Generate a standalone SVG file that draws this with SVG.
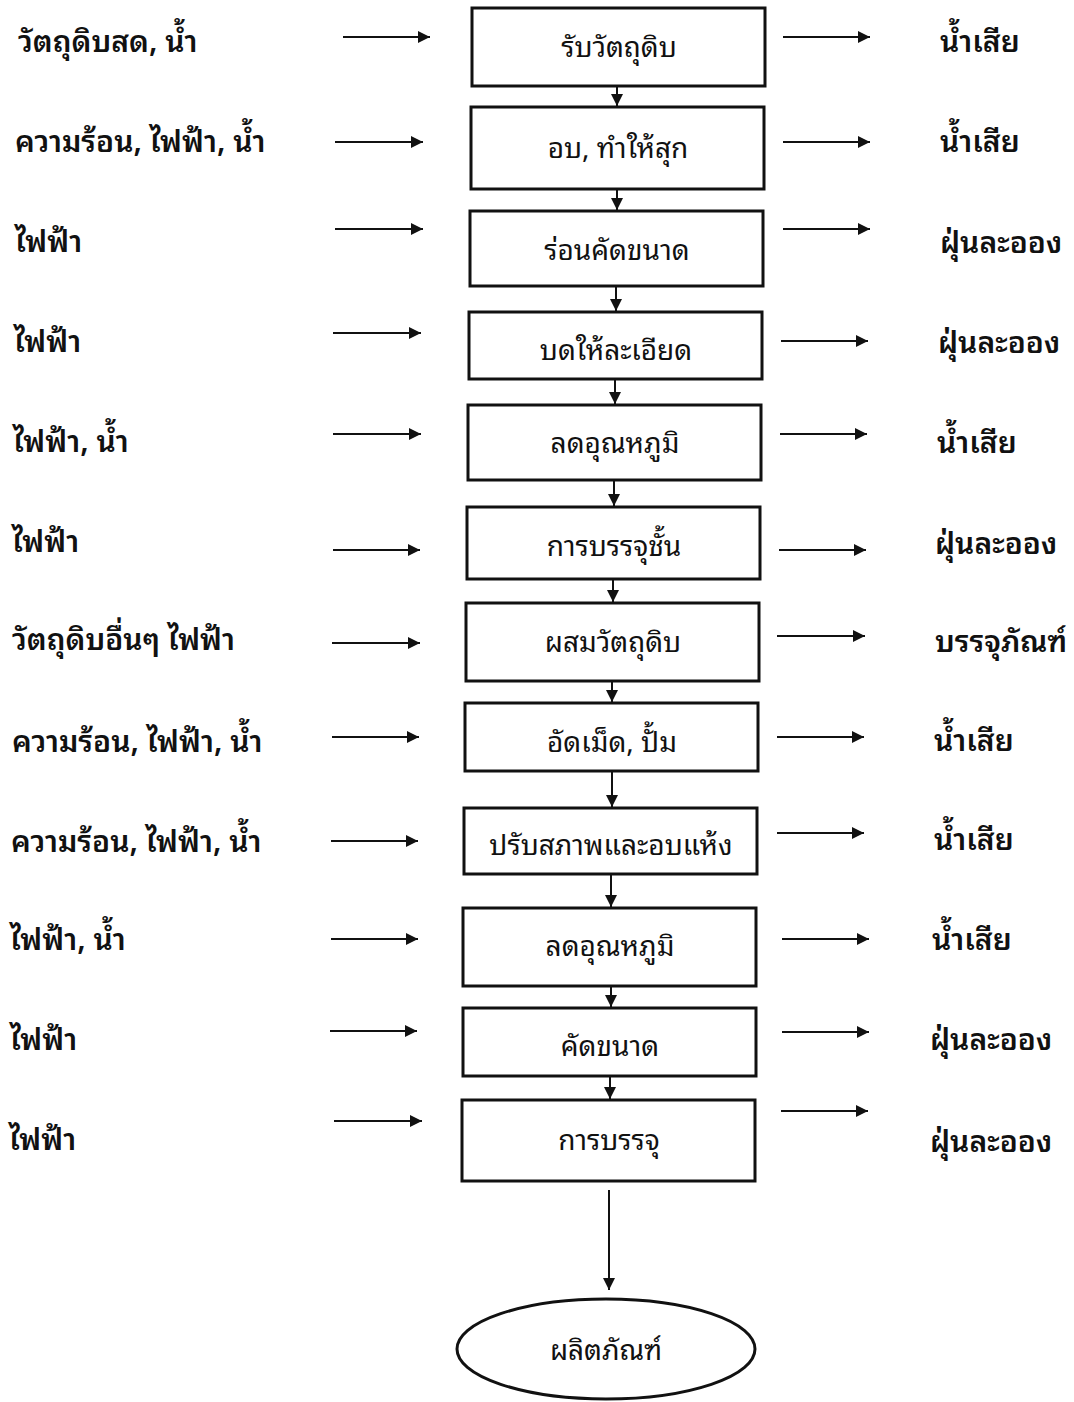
<svg xmlns="http://www.w3.org/2000/svg" width="1074" height="1402" viewBox="0 0 1074 1402">
<defs>
<style>
.bg{fill:#fff}
.box{fill:#fff;stroke:#111;stroke-width:3}
.ln{stroke:#111;stroke-width:2;fill:none}
.side{font-family:"Noto Sans Thai Looped","Loma","Garuda","Tahoma","Noto Sans Thai","Noto Sans",sans-serif;font-size:30px;font-weight:600;fill:#111}
.lbl{font-family:"Noto Sans Thai Looped","Loma","Garuda","Tahoma","Noto Sans Thai","Noto Sans",sans-serif;font-size:28px;fill:#111;text-anchor:middle}
</style>
<marker id="ah" viewBox="0 0 10 10" refX="10" refY="5" markerWidth="6.5" markerHeight="6" markerUnits="strokeWidth" orient="auto">
<path d="M0,0 L10,5 L0,10 z" fill="#111"/>
</marker>
</defs>
<rect class="bg" x="0" y="0" width="1074" height="1402"/>

<g id="nodes">
<g id="n1"><rect class="box" x="472" y="8" width="293" height="78"/><text class="lbl" x="619" y="57">รับวัตถุดิบ</text></g>
<g id="n2"><rect class="box" x="471" y="107" width="293" height="82"/><text class="lbl" x="618" y="158">อบ, ทำให้สุก</text></g>
<g id="n3"><rect class="box" x="470" y="211" width="293" height="75"/><text class="lbl" x="617" y="260">ร่อนคัดขนาด</text></g>
<g id="n4"><rect class="box" x="469" y="312" width="293" height="67"/><text class="lbl" x="616" y="360">บดให้ละเอียด</text></g>
<g id="n5"><rect class="box" x="468" y="405" width="293" height="75"/><text class="lbl" x="615" y="453">ลดอุณหภูมิ</text></g>
<g id="n6"><rect class="box" x="467" y="507" width="293" height="72"/><text class="lbl" x="614" y="556">การบรรจุชั้น</text></g>
<g id="n7"><rect class="box" x="466" y="603" width="293" height="78"/><text class="lbl" x="613" y="652">ผสมวัตถุดิบ</text></g>
<g id="n8"><rect class="box" x="465" y="703" width="293" height="68"/><text class="lbl" x="612" y="752">อัดเม็ด, ปั้ม</text></g>
<g id="n9"><rect class="box" x="464" y="808" width="293" height="66"/><text class="lbl" x="611" y="855">ปรับสภาพและอบแห้ง</text></g>
<g id="n10"><rect class="box" x="463" y="908" width="293" height="78"/><text class="lbl" x="610" y="956">ลดอุณหภูมิ</text></g>
<g id="n11"><rect class="box" x="463" y="1008" width="293" height="68"/><text class="lbl" x="610" y="1056">คัดขนาด</text></g>
<g id="n12"><rect class="box" x="462" y="1100" width="293" height="81"/><text class="lbl" x="609" y="1150">การบรรจุ</text></g>
<g id="n13"><ellipse class="box" cx="606" cy="1349" rx="149" ry="50"/><text class="lbl" x="606" y="1360">ผลิตภัณฑ์</text></g>
</g>

<g id="inputs">
<text class="side" x="18" y="52">วัตถุดิบสด, น้ำ</text>
<text class="side" x="15" y="152">ความร้อน, ไฟฟ้า, น้ำ</text>
<text class="side" x="15" y="252">ไฟฟ้า</text>
<text class="side" x="14" y="352">ไฟฟ้า</text>
<text class="side" x="13" y="452">ไฟฟ้า, น้ำ</text>
<text class="side" x="12" y="552">ไฟฟ้า</text>
<text class="side" x="12" y="650">วัตถุดิบอื่นๆ ไฟฟ้า</text>
<text class="side" x="12" y="752">ความร้อน, ไฟฟ้า, น้ำ</text>
<text class="side" x="11" y="852">ความร้อน, ไฟฟ้า, น้ำ</text>
<text class="side" x="10" y="950">ไฟฟ้า, น้ำ</text>
<text class="side" x="10" y="1050">ไฟฟ้า</text>
<text class="side" x="9" y="1150">ไฟฟ้า</text>
</g>

<g id="outputs">
<text class="side" x="940" y="52">น้ำเสีย</text>
<text class="side" x="940" y="152">น้ำเสีย</text>
<text class="side" x="940" y="253">ฝุ่นละออง</text>
<text class="side" x="938" y="353">ฝุ่นละออง</text>
<text class="side" x="937" y="453">น้ำเสีย</text>
<text class="side" x="935" y="554">ฝุ่นละออง</text>
<text class="side" x="935" y="652">บรรจุภัณฑ์</text>
<text class="side" x="934" y="751">น้ำเสีย</text>
<text class="side" x="934" y="850">น้ำเสีย</text>
<text class="side" x="932" y="950">น้ำเสีย</text>
<text class="side" x="930" y="1050">ฝุ่นละออง</text>
<text class="side" x="930" y="1152">ฝุ่นละออง</text>
</g>

<g id="connectors">
<line class="ln" x1="343" y1="37" x2="430" y2="37" marker-end="url(#ah)"/>
<line class="ln" x1="335" y1="142" x2="423" y2="142" marker-end="url(#ah)"/>
<line class="ln" x1="335" y1="229" x2="423" y2="229" marker-end="url(#ah)"/>
<line class="ln" x1="333" y1="333" x2="421" y2="333" marker-end="url(#ah)"/>
<line class="ln" x1="333" y1="434" x2="421" y2="434" marker-end="url(#ah)"/>
<line class="ln" x1="333" y1="550" x2="420" y2="550" marker-end="url(#ah)"/>
<line class="ln" x1="332" y1="643" x2="420" y2="643" marker-end="url(#ah)"/>
<line class="ln" x1="332" y1="737" x2="419" y2="737" marker-end="url(#ah)"/>
<line class="ln" x1="331" y1="841" x2="418" y2="841" marker-end="url(#ah)"/>
<line class="ln" x1="331" y1="939" x2="418" y2="939" marker-end="url(#ah)"/>
<line class="ln" x1="330" y1="1031" x2="417" y2="1031" marker-end="url(#ah)"/>
<line class="ln" x1="334" y1="1121" x2="422" y2="1121" marker-end="url(#ah)"/>

<line class="ln" x1="783" y1="37" x2="870" y2="37" marker-end="url(#ah)"/>
<line class="ln" x1="783" y1="142" x2="870" y2="142" marker-end="url(#ah)"/>
<line class="ln" x1="783" y1="229" x2="870" y2="229" marker-end="url(#ah)"/>
<line class="ln" x1="781" y1="341" x2="868" y2="341" marker-end="url(#ah)"/>
<line class="ln" x1="780" y1="434" x2="867" y2="434" marker-end="url(#ah)"/>
<line class="ln" x1="779" y1="550" x2="866" y2="550" marker-end="url(#ah)"/>
<line class="ln" x1="777" y1="636" x2="865" y2="636" marker-end="url(#ah)"/>
<line class="ln" x1="777" y1="737" x2="864" y2="737" marker-end="url(#ah)"/>
<line class="ln" x1="777" y1="833" x2="864" y2="833" marker-end="url(#ah)"/>
<line class="ln" x1="782" y1="939" x2="869" y2="939" marker-end="url(#ah)"/>
<line class="ln" x1="782" y1="1032" x2="869" y2="1032" marker-end="url(#ah)"/>
<line class="ln" x1="781" y1="1111" x2="868" y2="1111" marker-end="url(#ah)"/>

<line class="ln" x1="617" y1="87" x2="617" y2="106" marker-end="url(#ah)"/>
<line class="ln" x1="617" y1="190" x2="617" y2="210" marker-end="url(#ah)"/>
<line class="ln" x1="616" y1="287" x2="616" y2="311" marker-end="url(#ah)"/>
<line class="ln" x1="615" y1="380" x2="615" y2="404" marker-end="url(#ah)"/>
<line class="ln" x1="614" y1="481" x2="614" y2="506" marker-end="url(#ah)"/>
<line class="ln" x1="613" y1="580" x2="613" y2="602" marker-end="url(#ah)"/>
<line class="ln" x1="612" y1="682" x2="612" y2="702" marker-end="url(#ah)"/>
<line class="ln" x1="612" y1="772" x2="612" y2="807" marker-end="url(#ah)"/>
<line class="ln" x1="611" y1="875" x2="611" y2="907" marker-end="url(#ah)"/>
<line class="ln" x1="611" y1="987" x2="611" y2="1007" marker-end="url(#ah)"/>
<line class="ln" x1="610" y1="1077" x2="610" y2="1099" marker-end="url(#ah)"/>
<line class="ln" x1="609" y1="1190" x2="609" y2="1290" marker-end="url(#ah)"/>
</g>
</svg>
